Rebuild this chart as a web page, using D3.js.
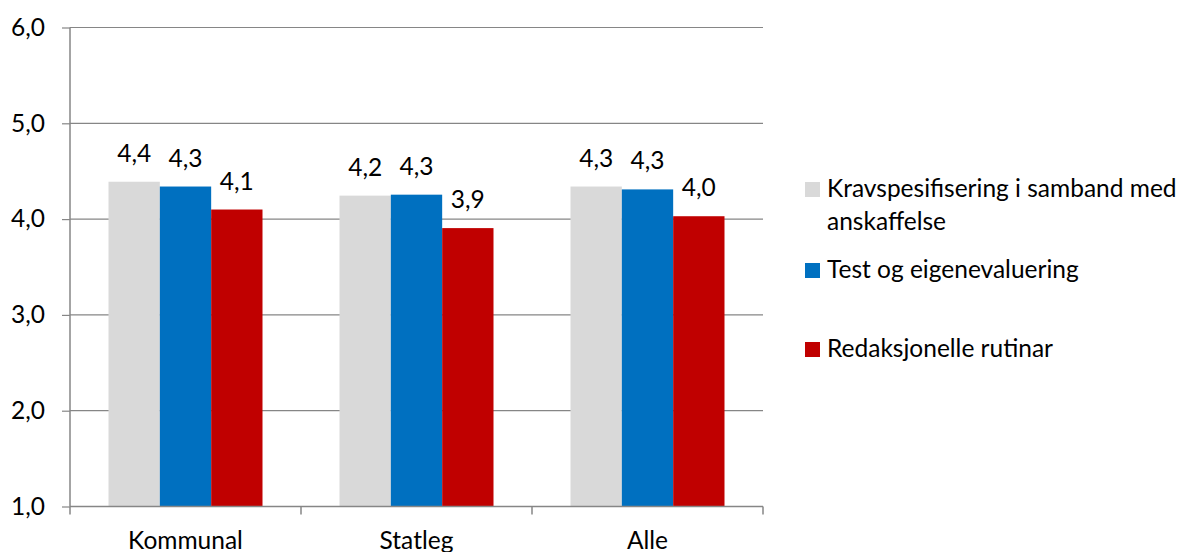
<!DOCTYPE html>
<html>
<head>
<meta charset="utf-8">
<script src="https://cdn.jsdelivr.net/npm/d3@7"></script>
<style>
  html, body { margin: 0; padding: 0; background: #fff; }
  svg { display: block; font-family: Lato, "Open Sans", sans-serif; }
</style>
</head>
<body>
<svg id="chart" width="1183" height="552"></svg>
<script>
// Categories and series
const categories = ["Kommunal", "Statleg", "Alle"];
const seriesNames = ["Kravspesifisering i samband med anskaffelse", "Test og eigenevaluering", "Redaksjonelle rutinar"];
const seriesColors = ["#D9D9D9", "#0070C0", "#C00000"];
// Mean scores per category, one array per series
const kravValues = [4.39, 4.245, 4.34];
const testValues = [4.34, 4.255, 4.31];
const redakValues = [4.10, 3.906, 4.03];
const seriesValues = [kravValues, testValues, redakValues];
const yTicks = [1, 2, 3, 4, 5, 6];

const svg = d3.select("#chart");
const plotLeft = 70, plotRight = 763, plotTop = 27.5, plotBottom = 506.5;
const fontSize = 24.5;
const fmt = v => d3.format(".1f")(v).replace(".", ",");

const x = d3.scaleBand().domain(categories).range([plotLeft, plotRight])
  .paddingInner(1 / 3).paddingOuter(1 / 6);
const xs = d3.scaleBand().domain(d3.range(seriesNames.length)).range([0, x.bandwidth()]);
const y = d3.scaleLinear().domain([1, 6]).range([plotBottom, plotTop]);

const axisColor = "#868686";

// Horizontal gridlines
svg.append("g").selectAll("line").data(yTicks.slice(1)).join("line")
  .attr("x1", plotLeft).attr("x2", plotRight)
  .attr("y1", d => y(d)).attr("y2", d => y(d))
  .attr("stroke", axisColor).attr("stroke-width", 1.2);

// Bars
const groups = svg.append("g").selectAll("g").data(categories).join("g")
  .attr("transform", c => `translate(${x(c)},0)`);
groups.each(function (c, ci) {
  const g = d3.select(this);
  seriesValues.forEach((vals, si) => {
    g.append("rect")
      .attr("x", xs(si)).attr("width", xs.bandwidth())
      .attr("y", y(vals[ci])).attr("height", y(1) - y(vals[ci]))
      .attr("fill", seriesColors[si]);
  });
});

// Value labels with a white backing box
groups.each(function (c, ci) {
  const g = d3.select(this);
  seriesValues.forEach((vals, si) => {
    const cx = xs(si) + xs.bandwidth() / 2;
    const by = y(vals[ci]) - 20;
    g.append("rect")
      .attr("x", xs(si) + 2).attr("width", xs.bandwidth() - 4)
      .attr("y", by - 20).attr("height", 19)
      .attr("fill", "#fff").attr("fill-opacity", 0.8);
    g.append("text")
      .attr("x", cx).attr("y", by)
      .attr("text-anchor", "middle")
      .attr("font-size", fontSize).attr("fill", "#000")
      .text(fmt(vals[ci]));
  });
});

// Y axis
const yAxis = d3.axisLeft(y).tickValues(yTicks).tickSize(8).tickPadding(8).tickFormat(fmt);
const yg = svg.append("g").attr("transform", `translate(${plotLeft},0)`).call(yAxis);
yg.select(".domain").attr("stroke", axisColor).attr("stroke-width", 1.5)
  .attr("d", `M0,${plotTop}V${plotBottom}`);
yg.selectAll(".tick line").attr("stroke", axisColor).attr("stroke-width", 1.2);
yg.selectAll(".tick text").attr("font-size", fontSize).attr("fill", "#000")
  .attr("font-family", "Lato, 'Open Sans', sans-serif").attr("dx", -9);

// X axis with ticks between categories
const xg = svg.append("g").attr("transform", `translate(0,${plotBottom})`);
xg.append("line").attr("x1", plotLeft).attr("x2", plotRight).attr("y1", 0).attr("y2", 0)
  .attr("stroke", axisColor).attr("stroke-width", 1.5);
const boundaries = [plotLeft].concat(categories.map(c => x(c) + x.bandwidth() + x.step() * x.paddingInner() / 2));
boundaries[boundaries.length - 1] = plotRight;
xg.selectAll(".xt").data(boundaries).join("line")
  .attr("x1", d => d).attr("x2", d => d).attr("y1", 0).attr("y2", 8)
  .attr("stroke", axisColor).attr("stroke-width", 1.5);
xg.selectAll(".xl").data(categories).join("text")
  .attr("x", c => x(c) + x.bandwidth() / 2).attr("y", 42)
  .attr("text-anchor", "middle").attr("font-size", fontSize).attr("fill", "#000")
  .text(c => c);

// Legend
const legendItems = [
  { lines: ["Kravspesifisering i samband med", "anskaffelse"], y: 197 },
  { lines: ["Test og eigenevaluering"], y: 278 },
  { lines: ["Redaksjonelle rutinar"], y: 357 }
];
const lg = svg.append("g");
legendItems.forEach((item, i) => {
  lg.append("rect").attr("x", 805).attr("y", item.y - 15)
    .attr("width", 15).attr("height", 15).attr("fill", seriesColors[i]);
  item.lines.forEach((t, li) => {
    lg.append("text").attr("x", 827).attr("y", item.y + li * 33)
      .attr("font-size", fontSize).attr("fill", "#000").text(t);
  });
});
</script>
</body>
</html>
